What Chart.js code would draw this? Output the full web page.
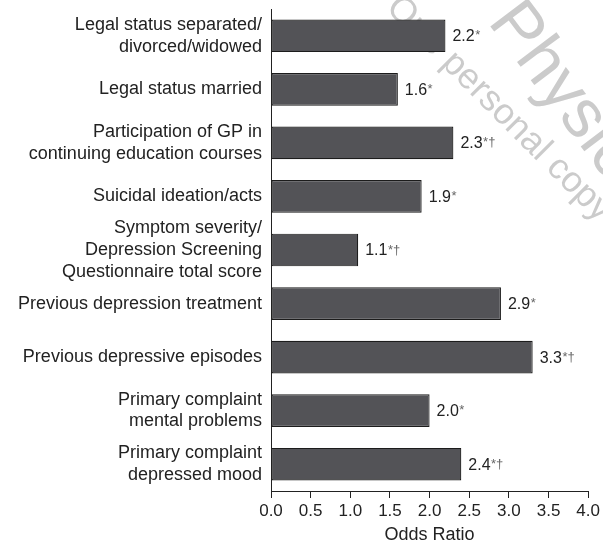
<!DOCTYPE html>
<html>
<head>
<meta charset="utf-8">
<script src="https://cdn.jsdelivr.net/npm/chart.js@4"></script>
<style>
  html, body { margin: 0; padding: 0; background: #fff; }
  #wrap { width: 603px; height: 546px; position: relative; }
</style>
</head>
<body>
<div id="wrap"><canvas id="c" width="603" height="546"></canvas></div>
<script>
// ---- data ----
const categories = [
  ["Legal status separated/", "divorced/widowed"],
  ["Legal status married"],
  ["Participation of GP in", "continuing education courses"],
  ["Suicidal ideation/acts"],
  ["Symptom severity/", "Depression Screening", "Questionnaire total score"],
  ["Previous depression treatment"],
  ["Previous depressive episodes"],
  ["Primary complaint", "mental problems"],
  ["Primary complaint", "depressed mood"]
];
const oddsRatios = [2.2, 1.6, 2.3, 1.9, 1.1, 2.9, 3.3, 2.0, 2.4];
const significance = ["*", "*", "*\u2020", "*", "*\u2020", "*", "*\u2020", "*", "*\u2020"];
const xTicks = [0.0, 0.5, 1.0, 1.5, 2.0, 2.5, 3.0, 3.5, 4.0];
const axisTitle = "Odds Ratio";
const watermarkLines = ["Physicians Postgraduate Press", "One personal copy may be printed"];

const FONT = "'Liberation Sans', Arial, Helvetica, sans-serif";

const watermark = {
  id: 'watermark',
  beforeDatasetsDraw(chart) {
    const ctx = chart.ctx;
    ctx.save();
    ctx.fillStyle = '#cbcbcb';
    ctx.textBaseline = 'alphabetic';
    ctx.textAlign = 'left';
    ctx.save();
    ctx.font = '68px ' + FONT;
    ctx.translate(487, 22);
    ctx.rotate(53 * Math.PI / 180);
    ctx.fillText(watermarkLines[0], 0, 0);
    ctx.restore();
    ctx.save();
    ctx.font = '36px ' + FONT;
    ctx.translate(385, 9);
    ctx.rotate(45 * Math.PI / 180);
    ctx.fillText(watermarkLines[1], 0, 0);
    ctx.restore();
    ctx.restore();
  }
};

const valueLabels = {
  id: 'valueLabels',
  afterDatasetsDraw(chart) {
    const ctx = chart.ctx;
    const meta = chart.getDatasetMeta(0);
    ctx.save();
    ctx.textBaseline = 'middle';
    ctx.textAlign = 'left';
    meta.data.forEach((bar, i) => {
      const txt = oddsRatios[i].toFixed(1);
      let x = bar.x + 7;
      const y = bar.y + 1;
      ctx.font = '16px ' + FONT;
      ctx.fillStyle = '#222';
      ctx.fillText(txt, x, y);
      x += ctx.measureText(txt).width + 0.5;
      ctx.font = '13px ' + FONT;
      ctx.fillStyle = '#666';
      ctx.fillText(significance[i], x, y - 1);
    });
    ctx.restore();
  }
};

new Chart(document.getElementById('c'), {
  type: 'bar',
  data: {
    labels: categories,
    datasets: [{
      data: oddsRatios,
      backgroundColor: '#535357',
      borderColor: '#1c1c1c',
      borderWidth: 1.2,
      borderSkipped: false,
      barPercentage: 0.61,
      categoryPercentage: 1.0
    }]
  },
  options: {
    indexAxis: 'y',
    responsive: false,
    animation: false,
    devicePixelRatio: 1,
    layout: { padding: { top: 9, left: 0, right: 0, bottom: 0 } },
    plugins: { legend: { display: false }, tooltip: { enabled: false } },
    scales: {
      x: {
        type: 'linear',
        min: xTicks[0],
        max: xTicks[xTicks.length - 1],
        afterBuildTicks(scale) { scale.ticks = xTicks.map(v => ({ value: v })); },
        afterFit(scale) { scale.height = 55; scale.paddingLeft = 0; },
        ticks: {
          callback: v => Number(v).toFixed(1),
          color: '#222',
          font: { family: FONT, size: 17 },
          padding: 3,
          maxRotation: 0
        },
        grid: { drawOnChartArea: false, drawTicks: true, tickLength: 7, color: '#222', lineWidth: 1 },
        border: { display: true, color: '#222', width: 1 },
        title: {
          display: true,
          text: axisTitle,
          color: '#222',
          font: { family: FONT, size: 18 },
          padding: { top: 2, bottom: 0 }
        }
      },
      y: {
        type: 'category',
        afterFit(scale) { scale.width = 271; scale.paddingTop = 0; scale.paddingBottom = 0; },
        ticks: {
          color: '#222',
          font: { family: FONT, size: 18, lineHeight: 1.2 },
          padding: 9,
          autoSkip: false
        },
        grid: { display: false, drawTicks: false },
        border: { display: true, color: '#222', width: 1 }
      }
    }
  },
  plugins: [watermark, valueLabels]
});
</script>
</body>
</html>
